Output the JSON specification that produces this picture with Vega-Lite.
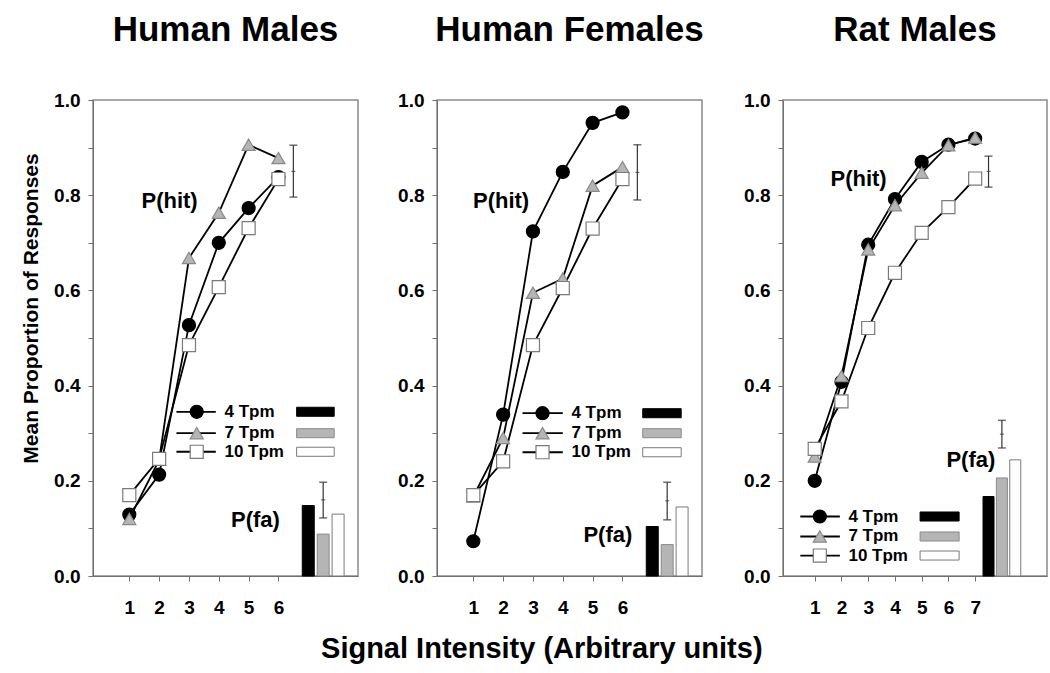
{
  "$schema": "https://vega.github.io/schema/vega-lite/v6.json",
  "background": "white",
  "padding": {"left": 19, "top": 12, "right": 5, "bottom": 5},
  "autosize": {"type": "pad"},
  "datasets": {
    "hits": [
      {"panel": "Human Males", "series": "4 Tpm", "x": 1, "y": 0.129},
      {"panel": "Human Males", "series": "4 Tpm", "x": 2, "y": 0.213},
      {"panel": "Human Males", "series": "4 Tpm", "x": 3, "y": 0.527},
      {"panel": "Human Males", "series": "4 Tpm", "x": 4, "y": 0.700},
      {"panel": "Human Males", "series": "4 Tpm", "x": 5, "y": 0.773},
      {"panel": "Human Males", "series": "4 Tpm", "x": 6, "y": 0.838},
      {"panel": "Human Males", "series": "7 Tpm", "x": 1, "y": 0.120},
      {"panel": "Human Males", "series": "7 Tpm", "x": 2, "y": 0.244},
      {"panel": "Human Males", "series": "7 Tpm", "x": 3, "y": 0.668},
      {"panel": "Human Males", "series": "7 Tpm", "x": 4, "y": 0.763},
      {"panel": "Human Males", "series": "7 Tpm", "x": 5, "y": 0.906},
      {"panel": "Human Males", "series": "7 Tpm", "x": 6, "y": 0.878},
      {"panel": "Human Males", "series": "10 Tpm", "x": 1, "y": 0.170},
      {"panel": "Human Males", "series": "10 Tpm", "x": 2, "y": 0.246},
      {"panel": "Human Males", "series": "10 Tpm", "x": 3, "y": 0.485},
      {"panel": "Human Males", "series": "10 Tpm", "x": 4, "y": 0.607},
      {"panel": "Human Males", "series": "10 Tpm", "x": 5, "y": 0.731},
      {"panel": "Human Males", "series": "10 Tpm", "x": 6, "y": 0.834},
      {"panel": "Human Females", "series": "4 Tpm", "x": 1, "y": 0.073},
      {"panel": "Human Females", "series": "4 Tpm", "x": 2, "y": 0.339},
      {"panel": "Human Females", "series": "4 Tpm", "x": 3, "y": 0.724},
      {"panel": "Human Females", "series": "4 Tpm", "x": 4, "y": 0.849},
      {"panel": "Human Females", "series": "4 Tpm", "x": 5, "y": 0.952},
      {"panel": "Human Females", "series": "4 Tpm", "x": 6, "y": 0.974},
      {"panel": "Human Females", "series": "7 Tpm", "x": 1, "y": 0.167},
      {"panel": "Human Females", "series": "7 Tpm", "x": 2, "y": 0.290},
      {"panel": "Human Females", "series": "7 Tpm", "x": 3, "y": 0.595},
      {"panel": "Human Females", "series": "7 Tpm", "x": 4, "y": 0.625},
      {"panel": "Human Females", "series": "7 Tpm", "x": 5, "y": 0.820},
      {"panel": "Human Females", "series": "7 Tpm", "x": 6, "y": 0.859},
      {"panel": "Human Females", "series": "10 Tpm", "x": 1, "y": 0.170},
      {"panel": "Human Females", "series": "10 Tpm", "x": 2, "y": 0.241},
      {"panel": "Human Females", "series": "10 Tpm", "x": 3, "y": 0.485},
      {"panel": "Human Females", "series": "10 Tpm", "x": 4, "y": 0.605},
      {"panel": "Human Females", "series": "10 Tpm", "x": 5, "y": 0.730},
      {"panel": "Human Females", "series": "10 Tpm", "x": 6, "y": 0.834},
      {"panel": "Rat Males", "series": "4 Tpm", "x": 1, "y": 0.200},
      {"panel": "Rat Males", "series": "4 Tpm", "x": 2, "y": 0.408},
      {"panel": "Rat Males", "series": "4 Tpm", "x": 3, "y": 0.696},
      {"panel": "Rat Males", "series": "4 Tpm", "x": 4, "y": 0.792},
      {"panel": "Rat Males", "series": "4 Tpm", "x": 5, "y": 0.870},
      {"panel": "Rat Males", "series": "4 Tpm", "x": 6, "y": 0.906},
      {"panel": "Rat Males", "series": "4 Tpm", "x": 7, "y": 0.919},
      {"panel": "Rat Males", "series": "7 Tpm", "x": 1, "y": 0.251},
      {"panel": "Rat Males", "series": "7 Tpm", "x": 2, "y": 0.420},
      {"panel": "Rat Males", "series": "7 Tpm", "x": 3, "y": 0.686},
      {"panel": "Rat Males", "series": "7 Tpm", "x": 4, "y": 0.779},
      {"panel": "Rat Males", "series": "7 Tpm", "x": 5, "y": 0.847},
      {"panel": "Rat Males", "series": "7 Tpm", "x": 6, "y": 0.905},
      {"panel": "Rat Males", "series": "7 Tpm", "x": 7, "y": 0.921},
      {"panel": "Rat Males", "series": "10 Tpm", "x": 1, "y": 0.267},
      {"panel": "Rat Males", "series": "10 Tpm", "x": 2, "y": 0.367},
      {"panel": "Rat Males", "series": "10 Tpm", "x": 3, "y": 0.521},
      {"panel": "Rat Males", "series": "10 Tpm", "x": 4, "y": 0.637},
      {"panel": "Rat Males", "series": "10 Tpm", "x": 5, "y": 0.721},
      {"panel": "Rat Males", "series": "10 Tpm", "x": 6, "y": 0.775},
      {"panel": "Rat Males", "series": "10 Tpm", "x": 7, "y": 0.835}
    ],
    "fa": [
      {"panel": "Human Males", "series": "4 Tpm", "x": 7.0, "y": 0.148},
      {"panel": "Human Males", "series": "7 Tpm", "x": 7.5, "y": 0.088},
      {"panel": "Human Males", "series": "10 Tpm", "x": 8.0, "y": 0.130},
      {"panel": "Human Females", "series": "4 Tpm", "x": 7.0, "y": 0.104},
      {"panel": "Human Females", "series": "7 Tpm", "x": 7.5, "y": 0.066},
      {"panel": "Human Females", "series": "10 Tpm", "x": 8.0, "y": 0.145},
      {"panel": "Rat Males", "series": "4 Tpm", "x": 7.5, "y": 0.167},
      {"panel": "Rat Males", "series": "7 Tpm", "x": 8.0, "y": 0.206},
      {"panel": "Rat Males", "series": "10 Tpm", "x": 8.5, "y": 0.244}
    ],
    "err": [
      {"panel": "Human Males", "kind": "hit", "x": 6.5, "lo": 0.796, "mid": 0.85, "hi": 0.905},
      {"panel": "Human Males", "kind": "fa", "x": 7.5, "lo": 0.122, "mid": 0.16, "hi": 0.197},
      {"panel": "Human Females", "kind": "hit", "x": 6.5, "lo": 0.790, "mid": 0.848, "hi": 0.906},
      {"panel": "Human Females", "kind": "fa", "x": 7.5, "lo": 0.118, "mid": 0.158, "hi": 0.197},
      {"panel": "Rat Males", "kind": "hit", "x": 7.5, "lo": 0.817, "mid": 0.85, "hi": 0.882},
      {"panel": "Rat Males", "kind": "fa", "x": 8.0, "lo": 0.269, "mid": 0.298, "hi": 0.327}
    ],
    "legend": [
      {"series": "4 Tpm"}, {"series": "7 Tpm"}, {"series": "10 Tpm"}
    ]
  },
  "title": {
    "text": "Signal Intensity (Arbitrary units)",
    "orient": "bottom",
    "anchor": "middle",
    "fontSize": 29,
    "fontWeight": "bold",
    "color": "black",
    "offset": 17,
    "dx": 8
  },
  "spacing": 37,
  "resolve": {"scale": {"x": "independent", "y": "independent"}},
  "hconcat": [
    {
      "width": 265, "height": 476,
      "title": {"text": "Human Males", "fontSize": 35, "fontWeight": "bold", "color": "black", "anchor": "middle", "offset": 43},
      "layer": [
        {"data": {"name": "hits"}, "transform": [{"filter": "datum.panel === 'Human Males'"}],
         "mark": {"type": "line", "color": "black", "strokeWidth": 1.8},
         "encoding": {
           "x": {"field": "x", "type": "quantitative", "scale": {"domain": [-0.05, 8.5], "nice": false, "zero": false}, "axis": {"values": [1, 2, 3, 4, 5, 6], "format": "d", "title": null}},
           "y": {"field": "y", "type": "quantitative", "scale": {"domain": [0, 1], "nice": false}, "axis": {"values": [0, 0.1, 0.2, 0.3, 0.4, 0.5, 0.6, 0.7, 0.8, 0.9, 1.0], "labelExpr": "round(datum.value*10) % 2 === 0 ? format(datum.value, '.1f') : ''", "title": "Mean Proportion of Responses", "titleY": 208}},
           "detail": {"field": "series"}
         }},
        {"data": {"name": "fa"}, "transform": [{"filter": "datum.panel === 'Human Males'"}],
         "mark": {"type": "bar", "orient": "vertical", "width": 12, "strokeWidth": 1},
         "encoding": {
           "x": {"field": "x", "type": "quantitative", "title": null},
           "y": {"field": "y", "type": "quantitative"},
           "fill": {"field": "series", "type": "nominal", "scale": {"domain": ["4 Tpm", "7 Tpm", "10 Tpm"], "range": ["#000000", "#b5b5b5", "#ffffff"]}, "legend": null},
           "stroke": {"field": "series", "type": "nominal", "scale": {"domain": ["4 Tpm", "7 Tpm", "10 Tpm"], "range": ["#000000", "#8a8a8a", "#7a7a7a"]}, "legend": null}
         }},
        {"data": {"name": "err"}, "transform": [{"filter": "datum.panel === 'Human Males'"}],
         "encoding": {"x": {"field": "x", "type": "quantitative", "title": null}},
         "layer": [
           {"mark": {"type": "rule", "color": "#333333", "strokeWidth": 1.2}, "encoding": {"y": {"field": "lo", "type": "quantitative"}, "y2": {"field": "hi"}}},
           {"mark": {"type": "tick", "orient": "horizontal", "size": 8, "thickness": 1.5, "color": "#333333"}, "encoding": {"y": {"field": "lo", "type": "quantitative"}}},
           {"mark": {"type": "tick", "orient": "horizontal", "size": 8, "thickness": 1.5, "color": "#333333"}, "encoding": {"y": {"field": "hi", "type": "quantitative"}}},
           {"mark": {"type": "tick", "orient": "horizontal", "size": 4, "thickness": 1.2, "color": "#333333"}, "encoding": {"y": {"field": "mid", "type": "quantitative"}}}
         ]},
        {"data": {"name": "hits"}, "transform": [{"filter": "datum.panel === 'Human Males'"}],
         "mark": {"type": "point", "filled": true, "opacity": 1, "size": 170, "strokeWidth": 1.2},
         "encoding": {
           "x": {"field": "x", "type": "quantitative", "title": null},
           "y": {"field": "y", "type": "quantitative"},
           "shape": {"field": "series", "type": "nominal", "scale": {"domain": ["4 Tpm", "7 Tpm", "10 Tpm"], "range": ["circle", "triangle-up", "square"]}, "legend": null},
           "fill": {"field": "series", "type": "nominal", "legend": null},
           "stroke": {"field": "series", "type": "nominal", "legend": null}
         }},
        {"data": {"values": [{"label": "P(hit)"}]}, "mark": {"type": "text", "fontSize": 22, "fontWeight": "bold", "align": "center", "baseline": "middle", "color": "black"},
         "encoding": {"x": {"datum": 2.35, "title": null}, "y": {"datum": 0.787}, "text": {"field": "label"}}},
        {"data": {"values": [{"label": "P(fa)"}]}, "mark": {"type": "text", "fontSize": 22, "fontWeight": "bold", "align": "center", "baseline": "middle", "color": "black"},
         "encoding": {"x": {"datum": 5.23, "title": null}, "y": {"datum": 0.117}, "text": {"field": "label"}}},
        {"data": {"name": "legend"}, "transform": [{"filter": "datum.series === '4 Tpm'"}],
         "layer": [
           {"mark": {"type": "rule", "color": "black", "strokeWidth": 1.8}, "encoding": {"x": {"datum": 2.58, "title": null}, "x2": {"datum": 3.9}, "y": {"datum": 0.345}}},
           {"mark": {"type": "point", "filled": true, "opacity": 1, "size": 170, "strokeWidth": 1.2}, "encoding": {"x": {"datum": 3.26, "title": null}, "y": {"datum": 0.345}, "shape": {"field": "series", "type": "nominal", "legend": null}, "fill": {"field": "series", "type": "nominal", "legend": null}, "stroke": {"field": "series", "type": "nominal", "legend": null}}},
           {"mark": {"type": "text", "align": "left", "baseline": "middle", "fontSize": 17, "fontWeight": "bold", "color": "black"}, "encoding": {"x": {"datum": 4.19, "title": null}, "y": {"datum": 0.345}, "text": {"field": "series"}}},
           {"mark": {"type": "rect", "strokeWidth": 1}, "encoding": {"x": {"datum": 6.61, "title": null}, "x2": {"datum": 7.87}, "y": {"datum": 0.3355}, "y2": {"datum": 0.3545}, "fill": {"field": "series", "type": "nominal", "legend": null}, "stroke": {"field": "series", "type": "nominal", "legend": null}}}
         ]},
        {"data": {"name": "legend"}, "transform": [{"filter": "datum.series === '7 Tpm'"}],
         "layer": [
           {"mark": {"type": "rule", "color": "black", "strokeWidth": 1.8}, "encoding": {"x": {"datum": 2.58, "title": null}, "x2": {"datum": 3.9}, "y": {"datum": 0.300}}},
           {"mark": {"type": "point", "filled": true, "opacity": 1, "size": 170, "strokeWidth": 1.2}, "encoding": {"x": {"datum": 3.26, "title": null}, "y": {"datum": 0.300}, "shape": {"field": "series", "type": "nominal", "legend": null}, "fill": {"field": "series", "type": "nominal", "legend": null}, "stroke": {"field": "series", "type": "nominal", "legend": null}}},
           {"mark": {"type": "text", "align": "left", "baseline": "middle", "fontSize": 17, "fontWeight": "bold", "color": "black"}, "encoding": {"x": {"datum": 4.19, "title": null}, "y": {"datum": 0.300}, "text": {"field": "series"}}},
           {"mark": {"type": "rect", "strokeWidth": 1}, "encoding": {"x": {"datum": 6.61, "title": null}, "x2": {"datum": 7.87}, "y": {"datum": 0.2905}, "y2": {"datum": 0.3095}, "fill": {"field": "series", "type": "nominal", "legend": null}, "stroke": {"field": "series", "type": "nominal", "legend": null}}}
         ]},
        {"data": {"name": "legend"}, "transform": [{"filter": "datum.series === '10 Tpm'"}],
         "layer": [
           {"mark": {"type": "rule", "color": "black", "strokeWidth": 1.8}, "encoding": {"x": {"datum": 2.58, "title": null}, "x2": {"datum": 3.9}, "y": {"datum": 0.261}}},
           {"mark": {"type": "point", "filled": true, "opacity": 1, "size": 170, "strokeWidth": 1.2}, "encoding": {"x": {"datum": 3.26, "title": null}, "y": {"datum": 0.261}, "shape": {"field": "series", "type": "nominal", "legend": null}, "fill": {"field": "series", "type": "nominal", "legend": null}, "stroke": {"field": "series", "type": "nominal", "legend": null}}},
           {"mark": {"type": "text", "align": "left", "baseline": "middle", "fontSize": 17, "fontWeight": "bold", "color": "black"}, "encoding": {"x": {"datum": 4.19, "title": null}, "y": {"datum": 0.261}, "text": {"field": "series"}}},
           {"mark": {"type": "rect", "strokeWidth": 1}, "encoding": {"x": {"datum": 6.61, "title": null}, "x2": {"datum": 7.87}, "y": {"datum": 0.2515}, "y2": {"datum": 0.2705}, "fill": {"field": "series", "type": "nominal", "legend": null}, "stroke": {"field": "series", "type": "nominal", "legend": null}}}
         ]}
      ]
    },
    {
      "width": 265, "height": 476,
      "title": {"text": "Human Females", "fontSize": 35, "fontWeight": "bold", "color": "black", "anchor": "middle", "offset": 43},
      "layer": [
        {"data": {"name": "hits"}, "transform": [{"filter": "datum.panel === 'Human Females'"}],
         "mark": {"type": "line", "color": "black", "strokeWidth": 1.8},
         "encoding": {
           "x": {"field": "x", "type": "quantitative", "scale": {"domain": [-0.05, 8.5], "nice": false, "zero": false}, "axis": {"values": [1, 2, 3, 4, 5, 6], "format": "d", "title": null}},
           "y": {"field": "y", "type": "quantitative", "scale": {"domain": [0, 1], "nice": false}, "axis": {"values": [0, 0.1, 0.2, 0.3, 0.4, 0.5, 0.6, 0.7, 0.8, 0.9, 1.0], "labelExpr": "round(datum.value*10) % 2 === 0 ? format(datum.value, '.1f') : ''", "title": null}},
           "detail": {"field": "series"}
         }},
        {"data": {"name": "fa"}, "transform": [{"filter": "datum.panel === 'Human Females'"}],
         "mark": {"type": "bar", "orient": "vertical", "width": 12, "strokeWidth": 1},
         "encoding": {
           "x": {"field": "x", "type": "quantitative", "title": null},
           "y": {"field": "y", "type": "quantitative", "title": null},
           "fill": {"field": "series", "type": "nominal", "scale": {"domain": ["4 Tpm", "7 Tpm", "10 Tpm"], "range": ["#000000", "#b5b5b5", "#ffffff"]}, "legend": null},
           "stroke": {"field": "series", "type": "nominal", "scale": {"domain": ["4 Tpm", "7 Tpm", "10 Tpm"], "range": ["#000000", "#8a8a8a", "#7a7a7a"]}, "legend": null}
         }},
        {"data": {"name": "err"}, "transform": [{"filter": "datum.panel === 'Human Females'"}],
         "encoding": {"x": {"field": "x", "type": "quantitative", "title": null}},
         "layer": [
           {"mark": {"type": "rule", "color": "#333333", "strokeWidth": 1.2}, "encoding": {"y": {"field": "lo", "type": "quantitative", "title": null}, "y2": {"field": "hi"}}},
           {"mark": {"type": "tick", "orient": "horizontal", "size": 8, "thickness": 1.5, "color": "#333333"}, "encoding": {"y": {"field": "lo", "type": "quantitative", "title": null}}},
           {"mark": {"type": "tick", "orient": "horizontal", "size": 8, "thickness": 1.5, "color": "#333333"}, "encoding": {"y": {"field": "hi", "type": "quantitative", "title": null}}},
           {"mark": {"type": "tick", "orient": "horizontal", "size": 4, "thickness": 1.2, "color": "#333333"}, "encoding": {"y": {"field": "mid", "type": "quantitative", "title": null}}}
         ]},
        {"data": {"name": "hits"}, "transform": [{"filter": "datum.panel === 'Human Females'"}],
         "mark": {"type": "point", "filled": true, "opacity": 1, "size": 170, "strokeWidth": 1.2},
         "encoding": {
           "x": {"field": "x", "type": "quantitative", "title": null},
           "y": {"field": "y", "type": "quantitative", "title": null},
           "shape": {"field": "series", "type": "nominal", "scale": {"domain": ["4 Tpm", "7 Tpm", "10 Tpm"], "range": ["circle", "triangle-up", "square"]}, "legend": null},
           "fill": {"field": "series", "type": "nominal", "legend": null},
           "stroke": {"field": "series", "type": "nominal", "legend": null}
         }},
        {"data": {"values": [{"label": "P(hit)"}]}, "mark": {"type": "text", "fontSize": 22, "fontWeight": "bold", "align": "center", "baseline": "middle", "color": "black"},
         "encoding": {"x": {"datum": 1.93, "title": null}, "y": {"datum": 0.787, "title": null}, "text": {"field": "label"}}},
        {"data": {"values": [{"label": "P(fa)"}]}, "mark": {"type": "text", "fontSize": 22, "fontWeight": "bold", "align": "center", "baseline": "middle", "color": "black"},
         "encoding": {"x": {"datum": 5.51, "title": null}, "y": {"datum": 0.087, "title": null}, "text": {"field": "label"}}},
        {"data": {"name": "legend"}, "transform": [{"filter": "datum.series === '4 Tpm'"}],
         "layer": [
           {"mark": {"type": "rule", "color": "black", "strokeWidth": 1.8}, "encoding": {"x": {"datum": 2.65, "title": null}, "x2": {"datum": 4.0}, "y": {"datum": 0.342, "title": null}}},
           {"mark": {"type": "point", "filled": true, "opacity": 1, "size": 170, "strokeWidth": 1.2}, "encoding": {"x": {"datum": 3.32, "title": null}, "y": {"datum": 0.342, "title": null}, "shape": {"field": "series", "type": "nominal", "legend": null}, "fill": {"field": "series", "type": "nominal", "legend": null}, "stroke": {"field": "series", "type": "nominal", "legend": null}}},
           {"mark": {"type": "text", "align": "left", "baseline": "middle", "fontSize": 17, "fontWeight": "bold", "color": "black"}, "encoding": {"x": {"datum": 4.29, "title": null}, "y": {"datum": 0.342, "title": null}, "text": {"field": "series"}}},
           {"mark": {"type": "rect", "strokeWidth": 1}, "encoding": {"x": {"datum": 6.68, "title": null}, "x2": {"datum": 7.97}, "y": {"datum": 0.3325, "title": null}, "y2": {"datum": 0.3515}, "fill": {"field": "series", "type": "nominal", "legend": null}, "stroke": {"field": "series", "type": "nominal", "legend": null}}}
         ]},
        {"data": {"name": "legend"}, "transform": [{"filter": "datum.series === '7 Tpm'"}],
         "layer": [
           {"mark": {"type": "rule", "color": "black", "strokeWidth": 1.8}, "encoding": {"x": {"datum": 2.65, "title": null}, "x2": {"datum": 4.0}, "y": {"datum": 0.300, "title": null}}},
           {"mark": {"type": "point", "filled": true, "opacity": 1, "size": 170, "strokeWidth": 1.2}, "encoding": {"x": {"datum": 3.32, "title": null}, "y": {"datum": 0.300, "title": null}, "shape": {"field": "series", "type": "nominal", "legend": null}, "fill": {"field": "series", "type": "nominal", "legend": null}, "stroke": {"field": "series", "type": "nominal", "legend": null}}},
           {"mark": {"type": "text", "align": "left", "baseline": "middle", "fontSize": 17, "fontWeight": "bold", "color": "black"}, "encoding": {"x": {"datum": 4.29, "title": null}, "y": {"datum": 0.300, "title": null}, "text": {"field": "series"}}},
           {"mark": {"type": "rect", "strokeWidth": 1}, "encoding": {"x": {"datum": 6.68, "title": null}, "x2": {"datum": 7.97}, "y": {"datum": 0.2905, "title": null}, "y2": {"datum": 0.3095}, "fill": {"field": "series", "type": "nominal", "legend": null}, "stroke": {"field": "series", "type": "nominal", "legend": null}}}
         ]},
        {"data": {"name": "legend"}, "transform": [{"filter": "datum.series === '10 Tpm'"}],
         "layer": [
           {"mark": {"type": "rule", "color": "black", "strokeWidth": 1.8}, "encoding": {"x": {"datum": 2.65, "title": null}, "x2": {"datum": 4.0}, "y": {"datum": 0.260, "title": null}}},
           {"mark": {"type": "point", "filled": true, "opacity": 1, "size": 170, "strokeWidth": 1.2}, "encoding": {"x": {"datum": 3.32, "title": null}, "y": {"datum": 0.260, "title": null}, "shape": {"field": "series", "type": "nominal", "legend": null}, "fill": {"field": "series", "type": "nominal", "legend": null}, "stroke": {"field": "series", "type": "nominal", "legend": null}}},
           {"mark": {"type": "text", "align": "left", "baseline": "middle", "fontSize": 17, "fontWeight": "bold", "color": "black"}, "encoding": {"x": {"datum": 4.29, "title": null}, "y": {"datum": 0.260, "title": null}, "text": {"field": "series"}}},
           {"mark": {"type": "rect", "strokeWidth": 1}, "encoding": {"x": {"datum": 6.68, "title": null}, "x2": {"datum": 7.97}, "y": {"datum": 0.2505, "title": null}, "y2": {"datum": 0.2695}, "fill": {"field": "series", "type": "nominal", "legend": null}, "stroke": {"field": "series", "type": "nominal", "legend": null}}}
         ]}
      ]
    },
    {
      "width": 264, "height": 476,
      "title": {"text": "Rat Males", "fontSize": 35, "fontWeight": "bold", "color": "black", "anchor": "middle", "offset": 43},
      "layer": [
        {"data": {"name": "hits"}, "transform": [{"filter": "datum.panel === 'Rat Males'"}],
         "mark": {"type": "line", "color": "black", "strokeWidth": 1.8},
         "encoding": {
           "x": {"field": "x", "type": "quantitative", "scale": {"domain": [0, 9.5], "nice": false, "zero": false}, "axis": {"values": [1, 2, 3, 4, 5, 6, 7], "format": "d", "title": null}},
           "y": {"field": "y", "type": "quantitative", "scale": {"domain": [0, 1], "nice": false}, "axis": {"values": [0, 0.1, 0.2, 0.3, 0.4, 0.5, 0.6, 0.7, 0.8, 0.9, 1.0], "labelExpr": "round(datum.value*10) % 2 === 0 ? format(datum.value, '.1f') : ''", "title": null}},
           "detail": {"field": "series"}
         }},
        {"data": {"name": "fa"}, "transform": [{"filter": "datum.panel === 'Rat Males'"}],
         "mark": {"type": "bar", "orient": "vertical", "width": 11, "strokeWidth": 1},
         "encoding": {
           "x": {"field": "x", "type": "quantitative", "title": null},
           "y": {"field": "y", "type": "quantitative", "title": null},
           "fill": {"field": "series", "type": "nominal", "scale": {"domain": ["4 Tpm", "7 Tpm", "10 Tpm"], "range": ["#000000", "#b5b5b5", "#ffffff"]}, "legend": null},
           "stroke": {"field": "series", "type": "nominal", "scale": {"domain": ["4 Tpm", "7 Tpm", "10 Tpm"], "range": ["#000000", "#8a8a8a", "#7a7a7a"]}, "legend": null}
         }},
        {"data": {"name": "err"}, "transform": [{"filter": "datum.panel === 'Rat Males'"}],
         "encoding": {"x": {"field": "x", "type": "quantitative", "title": null}},
         "layer": [
           {"mark": {"type": "rule", "color": "#333333", "strokeWidth": 1.2}, "encoding": {"y": {"field": "lo", "type": "quantitative", "title": null}, "y2": {"field": "hi"}}},
           {"mark": {"type": "tick", "orient": "horizontal", "size": 8, "thickness": 1.5, "color": "#333333"}, "encoding": {"y": {"field": "lo", "type": "quantitative", "title": null}}},
           {"mark": {"type": "tick", "orient": "horizontal", "size": 8, "thickness": 1.5, "color": "#333333"}, "encoding": {"y": {"field": "hi", "type": "quantitative", "title": null}}},
           {"mark": {"type": "tick", "orient": "horizontal", "size": 4, "thickness": 1.2, "color": "#333333"}, "encoding": {"y": {"field": "mid", "type": "quantitative", "title": null}}}
         ]},
        {"data": {"name": "hits"}, "transform": [{"filter": "datum.panel === 'Rat Males'"}],
         "mark": {"type": "point", "filled": true, "opacity": 1, "size": 170, "strokeWidth": 1.2},
         "encoding": {
           "x": {"field": "x", "type": "quantitative", "title": null},
           "y": {"field": "y", "type": "quantitative", "title": null},
           "shape": {"field": "series", "type": "nominal", "scale": {"domain": ["4 Tpm", "7 Tpm", "10 Tpm"], "range": ["circle", "triangle-up", "square"]}, "legend": null},
           "fill": {"field": "series", "type": "nominal", "legend": null},
           "stroke": {"field": "series", "type": "nominal", "legend": null}
         }},
        {"data": {"values": [{"label": "P(hit)"}]}, "mark": {"type": "text", "fontSize": 22, "fontWeight": "bold", "align": "center", "baseline": "middle", "color": "black"},
         "encoding": {"x": {"datum": 2.64, "title": null}, "y": {"datum": 0.833, "title": null}, "text": {"field": "label"}}},
        {"data": {"values": [{"label": "P(fa)"}]}, "mark": {"type": "text", "fontSize": 22, "fontWeight": "bold", "align": "center", "baseline": "middle", "color": "black"},
         "encoding": {"x": {"datum": 6.84, "title": null}, "y": {"datum": 0.243, "title": null}, "text": {"field": "label"}}},
        {"data": {"name": "legend"}, "transform": [{"filter": "datum.series === '4 Tpm'"}],
         "layer": [
           {"mark": {"type": "rule", "color": "black", "strokeWidth": 1.8}, "encoding": {"x": {"datum": 0.46, "title": null}, "x2": {"datum": 1.94}, "y": {"datum": 0.125, "title": null}}},
           {"mark": {"type": "point", "filled": true, "opacity": 1, "size": 170, "strokeWidth": 1.2}, "encoding": {"x": {"datum": 1.19, "title": null}, "y": {"datum": 0.125, "title": null}, "shape": {"field": "series", "type": "nominal", "legend": null}, "fill": {"field": "series", "type": "nominal", "legend": null}, "stroke": {"field": "series", "type": "nominal", "legend": null}}},
           {"mark": {"type": "text", "align": "left", "baseline": "middle", "fontSize": 17, "fontWeight": "bold", "color": "black"}, "encoding": {"x": {"datum": 2.26, "title": null}, "y": {"datum": 0.125, "title": null}, "text": {"field": "series"}}},
           {"mark": {"type": "rect", "strokeWidth": 1}, "encoding": {"x": {"datum": 4.94, "title": null}, "x2": {"datum": 6.4}, "y": {"datum": 0.1155, "title": null}, "y2": {"datum": 0.1345}, "fill": {"field": "series", "type": "nominal", "legend": null}, "stroke": {"field": "series", "type": "nominal", "legend": null}}}
         ]},
        {"data": {"name": "legend"}, "transform": [{"filter": "datum.series === '7 Tpm'"}],
         "layer": [
           {"mark": {"type": "rule", "color": "black", "strokeWidth": 1.8}, "encoding": {"x": {"datum": 0.46, "title": null}, "x2": {"datum": 1.94}, "y": {"datum": 0.083, "title": null}}},
           {"mark": {"type": "point", "filled": true, "opacity": 1, "size": 170, "strokeWidth": 1.2}, "encoding": {"x": {"datum": 1.19, "title": null}, "y": {"datum": 0.083, "title": null}, "shape": {"field": "series", "type": "nominal", "legend": null}, "fill": {"field": "series", "type": "nominal", "legend": null}, "stroke": {"field": "series", "type": "nominal", "legend": null}}},
           {"mark": {"type": "text", "align": "left", "baseline": "middle", "fontSize": 17, "fontWeight": "bold", "color": "black"}, "encoding": {"x": {"datum": 2.26, "title": null}, "y": {"datum": 0.083, "title": null}, "text": {"field": "series"}}},
           {"mark": {"type": "rect", "strokeWidth": 1}, "encoding": {"x": {"datum": 4.94, "title": null}, "x2": {"datum": 6.4}, "y": {"datum": 0.0735, "title": null}, "y2": {"datum": 0.0925}, "fill": {"field": "series", "type": "nominal", "legend": null}, "stroke": {"field": "series", "type": "nominal", "legend": null}}}
         ]},
        {"data": {"name": "legend"}, "transform": [{"filter": "datum.series === '10 Tpm'"}],
         "layer": [
           {"mark": {"type": "rule", "color": "black", "strokeWidth": 1.8}, "encoding": {"x": {"datum": 0.46, "title": null}, "x2": {"datum": 1.94}, "y": {"datum": 0.043, "title": null}}},
           {"mark": {"type": "point", "filled": true, "opacity": 1, "size": 170, "strokeWidth": 1.2}, "encoding": {"x": {"datum": 1.19, "title": null}, "y": {"datum": 0.043, "title": null}, "shape": {"field": "series", "type": "nominal", "legend": null}, "fill": {"field": "series", "type": "nominal", "legend": null}, "stroke": {"field": "series", "type": "nominal", "legend": null}}},
           {"mark": {"type": "text", "align": "left", "baseline": "middle", "fontSize": 17, "fontWeight": "bold", "color": "black"}, "encoding": {"x": {"datum": 2.26, "title": null}, "y": {"datum": 0.043, "title": null}, "text": {"field": "series"}}},
           {"mark": {"type": "rect", "strokeWidth": 1}, "encoding": {"x": {"datum": 4.94, "title": null}, "x2": {"datum": 6.4}, "y": {"datum": 0.0335, "title": null}, "y2": {"datum": 0.0525}, "fill": {"field": "series", "type": "nominal", "legend": null}, "stroke": {"field": "series", "type": "nominal", "legend": null}}}
         ]}
      ]
    }
  ],
  "config": {
    "font": "Liberation Sans",
    "view": {"stroke": "#8a8a8a", "strokeWidth": 1.5},
    "axis": {"domainColor": "#707070", "tickColor": "#707070", "tickSize": 5, "labelFontSize": 19, "labelFontWeight": "bold", "labelColor": "black", "grid": false},
    "axisX": {"labelPadding": 17},
    "axisY": {"labelPadding": 8, "titleFontSize": 21, "titleFontWeight": "bold", "titleColor": "black", "titlePadding": 12}
  }
}
